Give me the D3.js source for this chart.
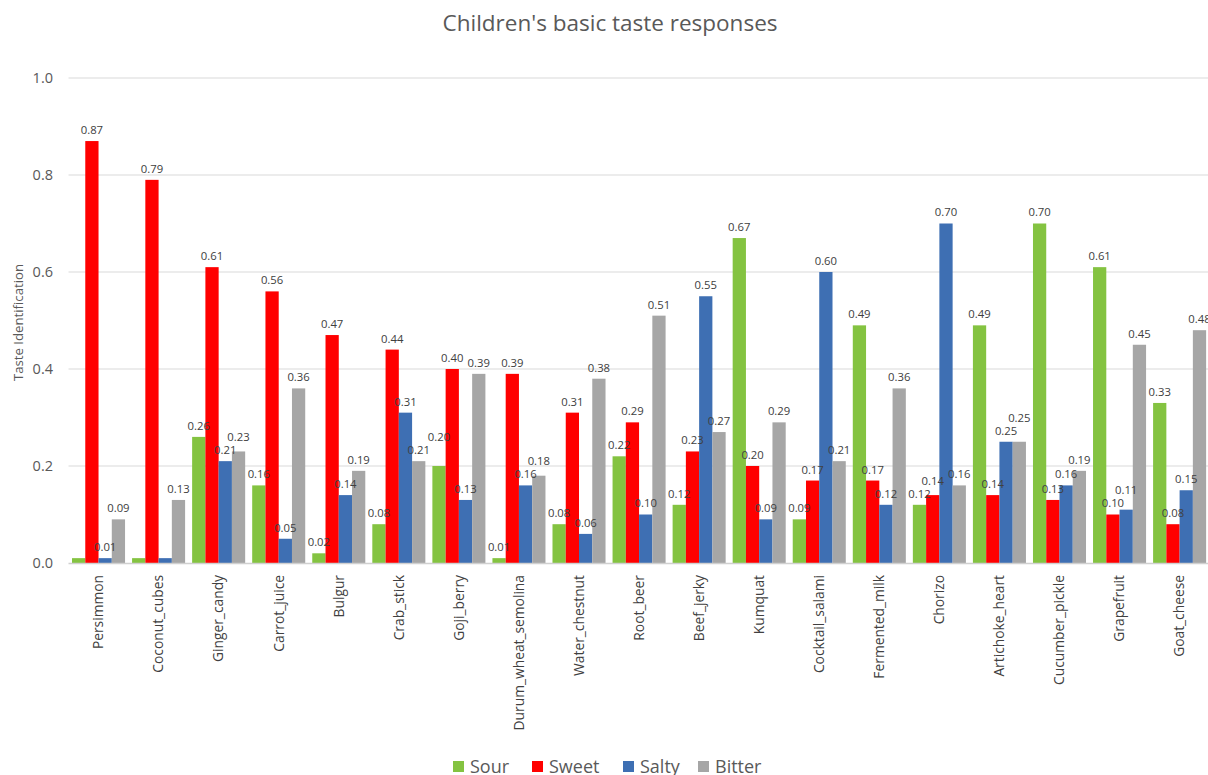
<!DOCTYPE html>
<html>
<head>
<meta charset="utf-8">
<script src="https://cdn.jsdelivr.net/npm/d3@7"></script>
<style>
  html, body { margin: 0; padding: 0; background: #fff; }
  svg { display: block; font-family: "Open Sans", "Noto Sans", sans-serif; }
</style>
</head>
<body>
<svg id="chart" width="1208" height="775"></svg>
<script>
// ---- data ----
const categories = ["Persimmon", "Coconut_cubes", "Ginger_candy", "Carrot_juice", "Bulgur", "Crab_stick",
  "Goji_berry", "Durum_wheat_semolina", "Water_chestnut", "Root_beer", "Beef_jerky", "Kumquat",
  "Cocktail_salami", "Fermented_milk", "Chorizo", "Artichoke_heart", "Cucumber_pickle", "Grapefruit", "Goat_cheese"];
const seriesNames = ["Sour", "Sweet", "Salty", "Bitter"];
const sour   = [0.01, 0.01, 0.26, 0.16, 0.02, 0.08, 0.20, 0.01, 0.08, 0.22, 0.12, 0.67, 0.09, 0.49, 0.12, 0.49, 0.70, 0.61, 0.33];
const sweet  = [0.87, 0.79, 0.61, 0.56, 0.47, 0.44, 0.40, 0.39, 0.31, 0.29, 0.23, 0.20, 0.17, 0.17, 0.14, 0.14, 0.13, 0.10, 0.08];
const salty  = [0.01, 0.01, 0.21, 0.05, 0.14, 0.31, 0.13, 0.16, 0.06, 0.10, 0.55, 0.09, 0.60, 0.12, 0.70, 0.25, 0.16, 0.11, 0.15];
const bitter = [0.09, 0.13, 0.23, 0.36, 0.19, 0.21, 0.39, 0.18, 0.38, 0.51, 0.27, 0.29, 0.21, 0.36, 0.16, 0.25, 0.19, 0.45, 0.48];
const yTicks = [0.0, 0.2, 0.4, 0.6, 0.8, 1.0];
// data labels that are not shown in the original: [category, series]
const hiddenLabels = [["Persimmon", "Sour"], ["Coconut_cubes", "Sour"], ["Coconut_cubes", "Salty"]];

const title = "Children's basic taste responses";
const yTitle = "Taste Identification";
const colors = { Sour: "#84C341", Sweet: "#FF0000", Salty: "#3E6FB3", Bitter: "#A6A6A6" };

// ---- layout ----
const seriesValues = { Sour: sour, Sweet: sweet, Salty: salty, Bitter: bitter };
const svg = d3.select("#chart");
const plotLeft = 68.5, step = 60.06;
const plotRight = plotLeft + step * categories.length;
const plotTop = 78, plotBottom = 563;

const x = d3.scaleBand().domain(categories).range([plotLeft, plotRight])
  .paddingInner(0.117).paddingOuter(0.0585);
const xs = d3.scaleBand().domain(seriesNames).range([0, x.bandwidth()]).padding(0);
const y = d3.scaleLinear().domain([0, 1]).range([plotBottom, plotTop]);

// title
svg.append("text").attr("x", 610).attr("y", 31).attr("text-anchor", "middle")
  .attr("font-size", 22.5).attr("fill", "#595959").text(title);

// grid
svg.append("g").selectAll("line").data(yTicks.filter(d => d > 0)).join("line")
  .attr("x1", plotLeft).attr("x2", 1208)
  .attr("y1", d => y(d)).attr("y2", d => y(d))
  .attr("stroke", "#D9D9D9").attr("stroke-width", 1.2);

// y axis (labels only)
const yAxis = d3.axisLeft(y).tickValues(yTicks).tickFormat(d3.format(".1f")).tickSize(0).tickPadding(0);
const gy = svg.append("g").attr("transform", `translate(53,0)`).call(yAxis);
gy.select(".domain").remove();
gy.selectAll("text").attr("font-size", 14.5).attr("fill", "#595959").attr("font-family", "Open Sans, sans-serif");

// y title
svg.append("text").attr("transform", `translate(23,${(plotTop + plotBottom) / 2 + 2}) rotate(-90)`)
  .attr("text-anchor", "middle").attr("font-size", 13.2).attr("fill", "#595959").text(yTitle);

// bars
const rows = [];
categories.forEach((c, i) => seriesNames.forEach(s => rows.push({ cat: c, series: s, value: seriesValues[s][i] })));

svg.append("g").selectAll("rect").data(rows).join("rect")
  .attr("x", d => x(d.cat) + xs(d.series))
  .attr("width", xs.bandwidth())
  .attr("y", d => y(d.value))
  .attr("height", d => y(0) - y(d.value))
  .attr("fill", d => colors[d.series]);

// x axis line
svg.append("line").attr("x1", plotLeft).attr("x2", 1208).attr("y1", plotBottom + 0.5).attr("y2", plotBottom + 0.5)
  .attr("stroke", "#D0D0D0").attr("stroke-width", 1.6);

// x axis labels
const xAxis = d3.axisBottom(x).tickSize(0).tickPadding(0);
const gx = svg.append("g").attr("transform", `translate(0,${plotBottom + 12})`).call(xAxis);
gx.select(".domain").remove();
gx.selectAll("text")
  .attr("font-size", 13.8).attr("fill", "#404040").attr("font-family", "Open Sans, sans-serif")
  .attr("text-anchor", "end").attr("transform", "rotate(-90)")
  .attr("x", 0).attr("y", 0).attr("dy", "0.35em");

// data labels with simple collision avoidance
const fmt = d3.format(".2f");
const isHidden = d => hiddenLabels.some(h => h[0] === d.cat && h[1] === d.series);
const labelG = svg.append("g");
const placed = [];
rows.filter(d => !isHidden(d)).forEach(d => {
  const cx = x(d.cat) + xs(d.series) + xs.bandwidth() / 2;
  const w = 22, h = 12;
  let cy = y(d.value) - 11;
  let moved = true, guard = 0;
  while (moved && guard < 20) {
    moved = false; guard++;
    for (const p of placed) {
      if (Math.abs(p.cx - cx) < w && Math.abs(p.cy - cy) < h) {
        cy = p.cy - h - 1; moved = true;
      }
    }
  }
  placed.push({ cx, cy });
  labelG.append("text").attr("x", cx).attr("y", cy).attr("dy", "0.35em")
    .attr("text-anchor", "middle").attr("font-size", 11.3).attr("fill", "#404040")
    .text(fmt(d.value));
});

// legend
const legendX = { Sour: 453, Sweet: 532, Salty: 623, Bitter: 698 };
const lg = svg.append("g").selectAll("g").data(seriesNames).join("g")
  .attr("transform", d => `translate(${legendX[d]},761)`);
lg.append("rect").attr("width", 11).attr("height", 11).attr("fill", d => colors[d]);
lg.append("text").attr("x", 17).attr("y", 5.5).attr("dy", "0.36em")
  .attr("font-size", 18).attr("fill", "#595959").text(d => d);
</script>
</body>
</html>
